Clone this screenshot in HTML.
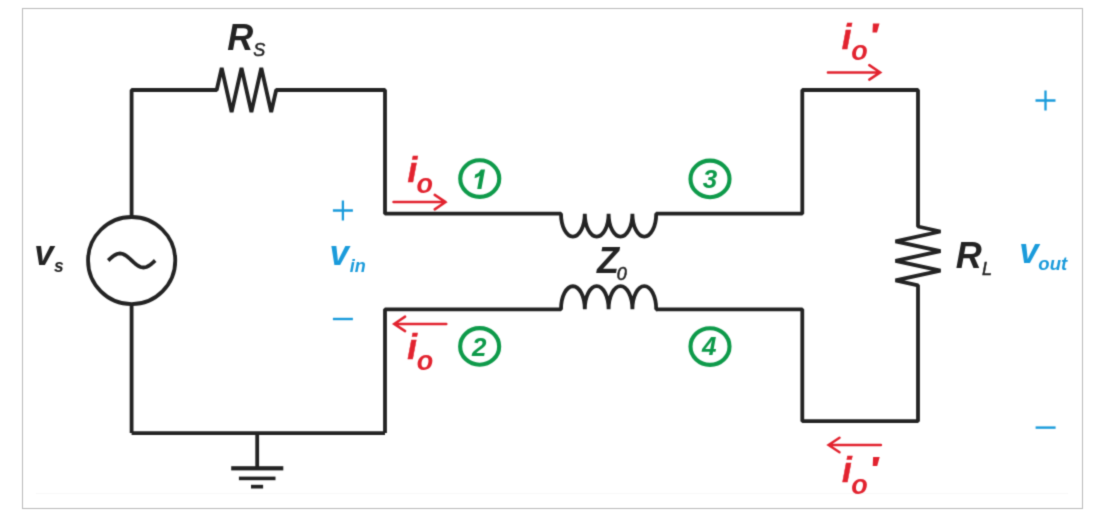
<!DOCTYPE html>
<html><head><meta charset="utf-8"><style>
html,body{margin:0;padding:0;background:#fff;overflow:hidden;}
svg{display:block;will-change:transform;}
text{font-family:"Liberation Sans",sans-serif;}
</style></head><body>
<svg width="1108" height="516" viewBox="0 0 1108 516">
<defs><filter id="soft" filterUnits="userSpaceOnUse" x="0" y="0" width="1108" height="516" color-interpolation-filters="sRGB"><feConvolveMatrix order="3" kernelMatrix="0.0256 0.1088 0.0256 0.1088 0.4624 0.1088 0.0256 0.1088 0.0256" divisor="1" edgeMode="duplicate"/></filter></defs>
<g filter="url(#soft)">
<rect x="0" y="0" width="1108" height="516" fill="#fff"/>
<rect x="22.5" y="8.5" width="1060" height="500" fill="#fff" stroke="#b9b9b9" stroke-width="1"/>
<path d="M36,493.5 L1068,493.5" stroke="#f7f7f7" stroke-width="1"/>
<path d="M131.6,433.1 L131.6,90 L216.70,90.00 L221.70,68.00 L231.60,112.00 L241.50,68.00 L251.40,112.00 L261.30,68.00 L271.20,112.00 L276.20,90.00 L385,90 L385,213.7 L561,213.7 A11.9,23 0 0 0 584.80,213.7 A11.9,23 0 0 0 608.60,213.7 A11.9,23 0 0 0 632.40,213.7 A11.9,23 0 0 0 656.20,213.7 L802.3,213.7 L802.3,90 L918,90 L918.00,226.50 L940.50,231.50 L895.50,241.30 L940.50,251.10 L895.50,260.90 L940.50,270.60 L895.50,280.30 L918.00,285.30 L918,421.2 L802.3,421.2 L802.3,309.3 L656.20,309.3" fill="none" stroke="#232323" stroke-width="3.8" stroke-linejoin="bevel"/>
<path d="M385,433.1 L385,309.3 L561,309.3 A11.9,23.1 0 0 1 584.80,309.3 A11.9,23.1 0 0 1 608.60,309.3 A11.9,23.1 0 0 1 632.40,309.3 A11.9,23.1 0 0 1 656.20,309.3 L657.20,309.3" fill="none" stroke="#232323" stroke-width="3.8" stroke-linejoin="bevel"/>
<path d="M385,433.1 L131.6,433.1" fill="none" stroke="#232323" stroke-width="3.8" stroke-linejoin="bevel"/>
<circle cx="131.65" cy="260.6" r="43.6" fill="#fff" stroke="#232323" stroke-width="3.8"/>
<path d="M108.20,260.50 L109.18,259.59 L110.16,258.69 L111.14,257.82 L112.12,257.00 L113.10,256.24 L114.08,255.55 L115.05,254.95 L116.03,254.44 L117.01,254.03 L117.99,253.74 L118.97,253.56 L119.95,253.50 L120.93,253.56 L121.91,253.74 L122.89,254.03 L123.87,254.44 L124.85,254.95 L125.82,255.55 L126.80,256.24 L127.78,257.00 L128.76,257.82 L129.74,258.69 L130.72,259.59 L131.70,260.50 L132.68,261.41 L133.66,262.31 L134.64,263.18 L135.62,264.00 L136.60,264.76 L137.57,265.45 L138.55,266.05 L139.53,266.56 L140.51,266.97 L141.49,267.26 L142.47,267.44 L143.45,267.50 L144.43,267.44 L145.41,267.26 L146.39,266.97 L147.37,266.56 L148.35,266.05 L149.32,265.45 L150.30,264.76 L151.28,264.00 L152.26,263.18 L153.24,262.31 L154.22,261.41 L155.20,260.50" fill="none" stroke="#232323" stroke-width="3.8"/>
<path d="M257.2,433.1 L257.2,467" stroke="#232323" stroke-width="3.8"/>
<rect x="231.2" y="466.2" width="52.1" height="4.2" fill="#232323"/>
<rect x="238.9" y="476.6" width="36.6" height="3.6" fill="#232323"/>
<rect x="251" y="484.8" width="12.1" height="3.7" fill="#232323"/>
<path d="M393.5,202.1 L445.6,202.1 M434.70000000000005,194.85 L445.6,202.1 L434.70000000000005,209.35" fill="none" stroke="#e2232f" stroke-width="2.5" stroke-linecap="round" stroke-linejoin="miter" stroke-miterlimit="10"/>
<path d="M446.3,323.9 L394.2,323.9 M405.09999999999997,316.65 L394.2,323.9 L405.09999999999997,331.15" fill="none" stroke="#e2232f" stroke-width="2.5" stroke-linecap="round" stroke-linejoin="miter" stroke-miterlimit="10"/>
<path d="M827.9,72.4 L880.2,72.4 M869.3000000000001,65.15 L880.2,72.4 L869.3000000000001,79.65" fill="none" stroke="#e2232f" stroke-width="2.5" stroke-linecap="round" stroke-linejoin="miter" stroke-miterlimit="10"/>
<path d="M880.9,445 L828.6,445 M839.5,437.75 L828.6,445 L839.5,452.25" fill="none" stroke="#e2232f" stroke-width="2.5" stroke-linecap="round" stroke-linejoin="miter" stroke-miterlimit="10"/>
<ellipse cx="479.75" cy="178.6" rx="19.5" ry="18.3" fill="none" stroke="#0e9a4a" stroke-width="4.1"/>
<ellipse cx="479.65" cy="346.4" rx="19.5" ry="18.3" fill="none" stroke="#0e9a4a" stroke-width="4.1"/>
<ellipse cx="710" cy="178.9" rx="19.5" ry="18.3" fill="none" stroke="#0e9a4a" stroke-width="4.1"/>
<ellipse cx="710" cy="346.55" rx="19.5" ry="18.3" fill="none" stroke="#0e9a4a" stroke-width="4.1"/>
<path d="M481.0,169.4 L485.0,169.4 L481.4,189.0 L477.2,189.0 L479.7,175.8 Q477.6,177.4 474.5,178.3 L475.2,174.5 Q479.4,172.9 481.0,169.4 Z" fill="#0e9a4a"/>
<path d="M872.90,23.40 L879.50,23.40 L877.00,32.40 L872.50,32.40 Z" fill="#e2232f"/>
<path d="M873.10,457.00 L879.70,457.00 L877.20,466.00 L872.70,466.00 Z" fill="#e2232f"/>
<path d="M332.9,210.5 L352.9,210.5 M342.9,200.5 L342.9,220.5" stroke="#1a9bdb" stroke-width="2.3"/>
<path d="M332.9,319 L352.9,319" stroke="#1a9bdb" stroke-width="2.4"/>
<path d="M1035.5,100.5 L1055.5,100.5 M1045.5,90.5 L1045.5,110.5" stroke="#1a9bdb" stroke-width="2.3"/>
<path d="M1035.6,427.6 L1055.6,427.6" stroke="#1a9bdb" stroke-width="2.4"/>
<text x="227.35" y="49.90" font-size="36" font-weight="bold" font-style="italic" fill="#232323">R</text>
<text x="253.20" y="56.30" font-size="18" font-weight="normal" font-style="italic" fill="#232323" stroke="#232323" stroke-width="0.5">S</text>
<text x="34.30" y="264.75" font-size="35" font-weight="bold" font-style="italic" fill="#232323">v</text>
<text x="53.95" y="272.30" font-size="17.5" font-weight="bold" font-style="italic" fill="#232323">s</text>
<text x="329.60" y="265.20" font-size="35" font-weight="bold" font-style="italic" fill="#1a9bdb">v</text>
<text x="349.75" y="271.90" font-size="18" font-weight="bold" font-style="italic" fill="#1a9bdb">in</text>
<text x="1019.25" y="262.75" font-size="35" font-weight="bold" font-style="italic" fill="#1a9bdb">v</text>
<text x="1038.35" y="270.30" font-size="18.5" font-weight="bold" font-style="italic" fill="#1a9bdb">out</text>
<text x="955.85" y="267.75" font-size="36" font-weight="bold" font-style="italic" fill="#232323">R</text>
<text x="981.90" y="274.50" font-size="18" font-weight="normal" font-style="italic" fill="#232323" stroke="#232323" stroke-width="0.5">L</text>
<text x="596.95" y="273.25" font-size="36" font-weight="bold" font-style="italic" fill="#232323">Z</text>
<text x="616.75" y="280.35" font-size="18" font-weight="normal" font-style="italic" fill="#232323" stroke="#232323" stroke-width="0.5">0</text>
<text x="407.40" y="182.10" font-size="35" font-weight="bold" font-style="italic" fill="#e2232f" stroke="#e2232f" stroke-width="0.5">i</text>
<text x="416.55" y="192.80" font-size="27" font-weight="bold" font-style="italic" fill="#e2232f">o</text>
<text x="407.25" y="359.35" font-size="35" font-weight="bold" font-style="italic" fill="#e2232f" stroke="#e2232f" stroke-width="0.5">i</text>
<text x="416.80" y="370.05" font-size="27" font-weight="bold" font-style="italic" fill="#e2232f">o</text>
<text x="841.75" y="48.90" font-size="35" font-weight="bold" font-style="italic" fill="#e2232f" stroke="#e2232f" stroke-width="0.5">i</text>
<text x="851.15" y="60.05" font-size="27" font-weight="bold" font-style="italic" fill="#e2232f">o</text>
<text x="842.00" y="482.40" font-size="35" font-weight="bold" font-style="italic" fill="#e2232f" stroke="#e2232f" stroke-width="0.5">i</text>
<text x="851.30" y="493.50" font-size="27" font-weight="bold" font-style="italic" fill="#e2232f">o</text>
<text x="472.10" y="355.50" font-size="26" font-weight="bold" font-style="italic" fill="#0e9a4a">2</text>
<text x="702.75" y="188.25" font-size="26" font-weight="bold" font-style="italic" fill="#0e9a4a">3</text>
<text x="702.10" y="355.25" font-size="26" font-weight="bold" font-style="italic" fill="#0e9a4a">4</text>
</g>
</svg>
</body></html>
